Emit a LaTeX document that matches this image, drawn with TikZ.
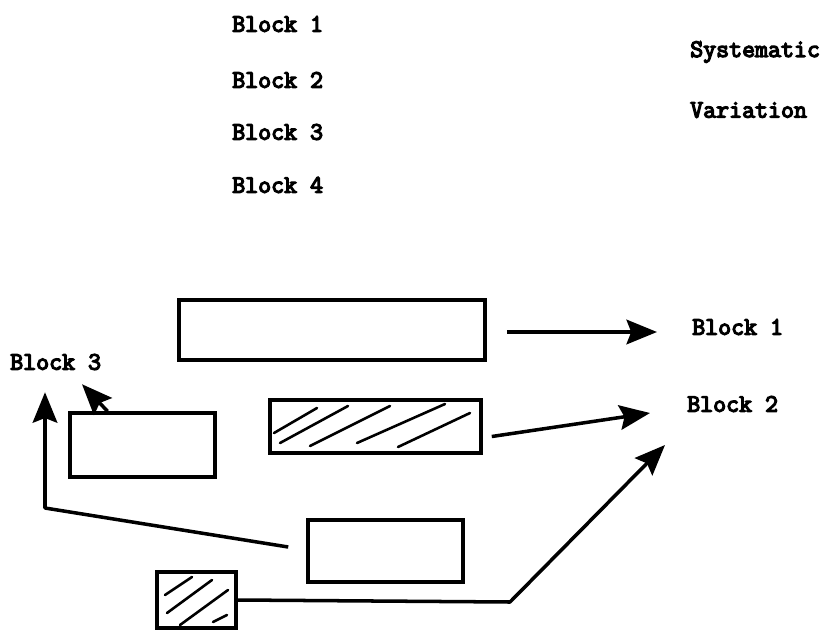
\documentclass[tikz,border=0pt]{standalone}
\usepackage{fontspec}
\newfontfamily\typewr{Latin Modern Mono}[FakeBold=5]
\usepackage{tikz}
\usetikzlibrary{arrows.meta,positioning}

\begin{document}
\begin{tikzpicture}[
    x=0.03cm, y=0.03cm,
    font=\typewr\fontsize{21.5}{24}\selectfont,
    lab/.style={anchor=west, inner sep=0pt},
    blk/.style={draw, line width=3pt, inner sep=0pt},
    hatch/.style={line width=2.2pt, line cap=round},
    arr/.style={-{Stealth[length=26pt, width=21pt, inset=4pt]},
                line width=3pt, line join=round},
  ]
    \useasboundingbox (0,-630) rectangle (830,0);
    % --- legend ------------------------------------------------------------
    \node[lab] (t1) at (232, -24)  {Block 1};
    \node[lab] (t2) at (232, -80)  {Block 2};
    \node[lab] (t3) at (232,-132)  {Block 3};
    \node[lab] (t4) at (232,-185)  {Block 4};
    \node[lab] (sys) at (690, -52) {Systematic};
    \node[lab] (var) at (690,-110) {Variation};
    % --- blocks ------------------------------------------------------------
    \node[blk, minimum width=9.18cm, minimum height=1.8cm]  (a) at (332,-330)   {};
    \node[blk, minimum width=4.35cm, minimum height=1.92cm] (b) at (142.5,-445) {};
    \node[blk, minimum width=6.33cm, minimum height=1.59cm] (c) at (375.5,-426.5) {};
    \node[blk, minimum width=4.65cm, minimum height=1.86cm] (d) at (385.5,-551) {};
    \node[blk, minimum width=2.37cm, minimum height=1.68cm] (e) at (196.5,-600) {};
    % --- hatching ----------------------------------------------------------
    \draw[hatch] (274,-433) -- (317,-408);
    \draw[hatch] (280,-443) -- (348,-406);
    \draw[hatch] (310,-446) -- (390,-406);
    \draw[hatch] (357,-443) -- (445,-404);
    \draw[hatch] (398,-447) -- (470,-413);
    \draw[hatch] (165,-595) -- (192,-577);
    \draw[hatch] (167,-613) -- (212,-580);
    \draw[hatch] (180,-625) -- (228,-590);
    \draw[hatch] (213,-622) -- (227,-615);
    % --- targets -----------------------------------------------------------
    \node[lab] (r1) at (692,-327) {Block 1};
    \node[lab] (r2) at (687,-404) {Block 2};
    \node[lab] (r3) at ( 10,-362) {Block 3};
    % --- arrows ------------------------------------------------------------
    \draw[arr] ([shift={(20,-2)}]a.east) -- ([shift={(-35,-5)}]r1.west);
    \draw[arr] ([shift={(9,-10)}]c.east) -- ([shift={(-37,-9)}]r2.west);
    \draw[arr] (e.east) -- (510,-602) -- ([shift={(-22,-41)}]r2.west);
    \draw[arr] ([shift={(-18,4)}]d.west) -- (45,-508) -- ([shift={(35,-22)}]r3.south west);
    \draw[arr] ([shift={(-35,0)}]b.north) -- ([shift={(72,-14)}]r3.south west);
  \end{tikzpicture}
\end{document}
